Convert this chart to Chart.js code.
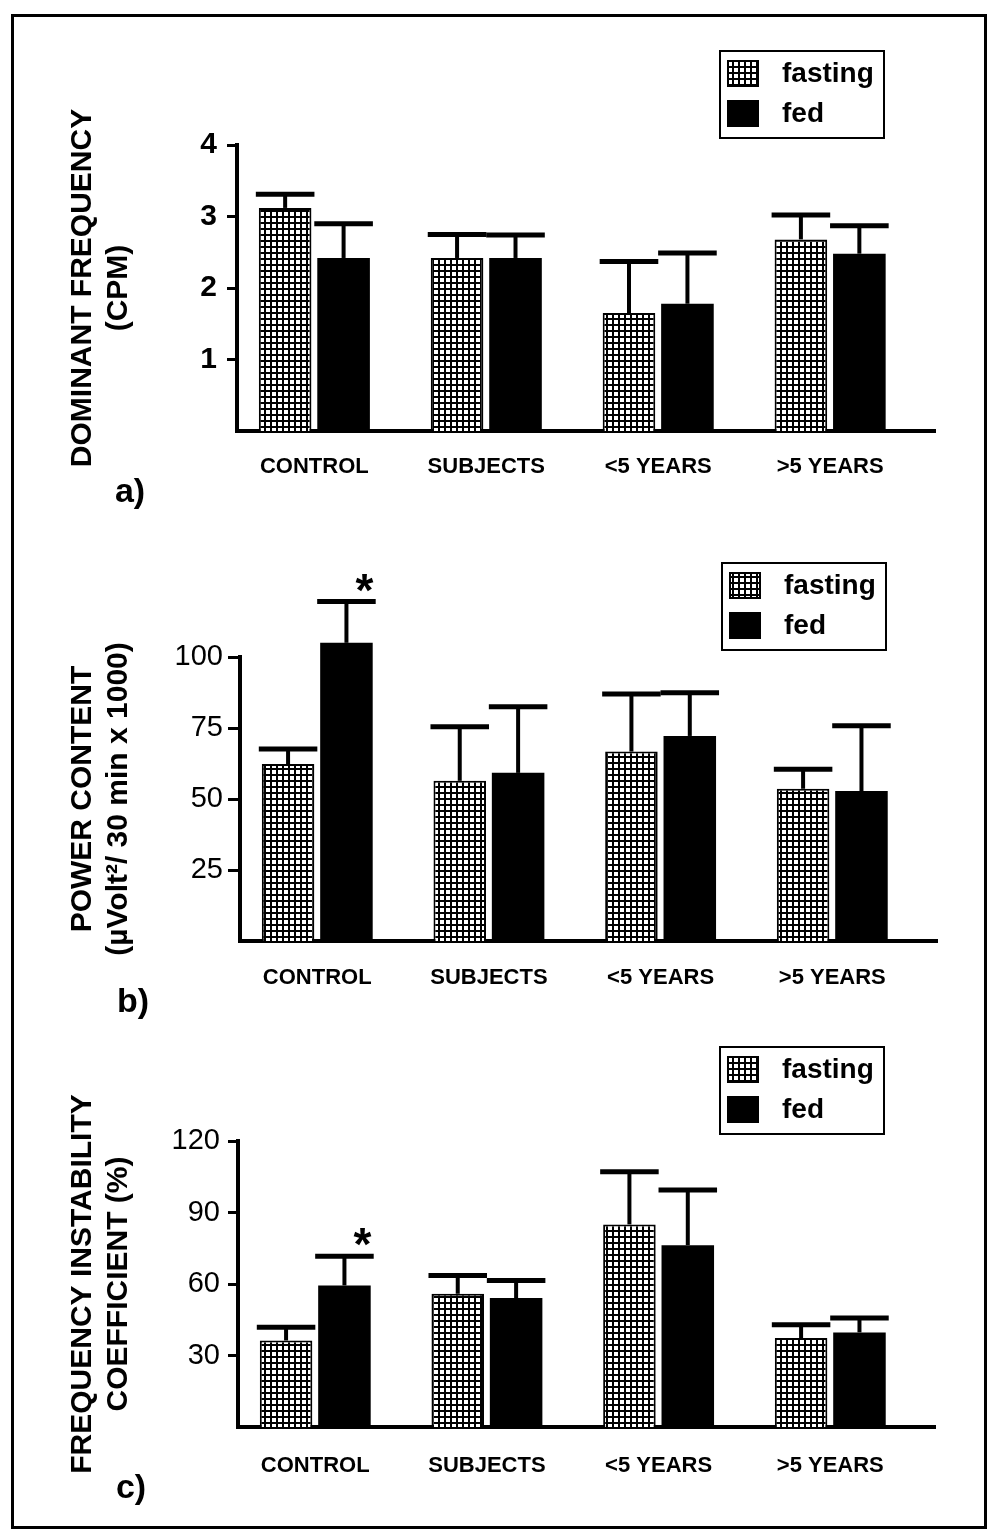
<!DOCTYPE html>
<html>
<head>
<meta charset="utf-8">
<script src="https://cdn.jsdelivr.net/npm/chart.js@4.4.1/dist/chart.umd.min.js"></script>
<style>
html,body{margin:0;padding:0;background:#fff;}
body{width:997px;height:1535px;position:relative;overflow:hidden;}
#frame{position:absolute;left:11px;top:14px;width:976px;height:1515px;border:3px solid #000;box-sizing:border-box;}
canvas{position:absolute;left:0;}
</style>
</head>
<body>
<div id="frame"></div>
<canvas id="pa" width="997" height="510" style="top:0px;width:997px;height:510px"></canvas>
<canvas id="pb" width="997" height="510" style="top:510px;width:997px;height:510px"></canvas>
<canvas id="pc" width="997" height="515" style="top:1020px;width:997px;height:515px"></canvas>
<script>
// ---------- DATA ----------
const categories = ['CONTROL', 'SUBJECTS', '<5 YEARS', '>5 YEARS'];
const seriesNames = ['fasting', 'fed'];

// a) Dominant frequency (CPM)
const domFreqFasting    = [3.12, 2.42, 1.65, 2.68];
const domFreqFastingErr = [0.19, 0.33, 0.72, 0.34];
const domFreqFed        = [2.42, 2.42, 1.78, 2.48];
const domFreqFedErr     = [0.48, 0.32, 0.71, 0.39];
const domFreqTicks      = [1, 2, 3, 4];

// b) Power content
const powerFasting    = [62.3, 56.4, 66.7, 53.6];
const powerFastingErr = [5.3, 19.0, 20.3, 6.9];
const powerFed        = [105.0, 59.2, 72.2, 52.8];
const powerFedErr     = [14.5, 23.3, 15.2, 23.0];
const powerTicks      = [25, 50, 75, 100];

// c) Frequency instability coefficient (%)
const instabFasting    = [36.3, 55.9, 85.0, 37.3];
const instabFastingErr = [5.6, 7.7, 22.1, 5.6];
const instabFed        = [59.4, 54.1, 76.3, 39.7];
const instabFedErr     = [12.2, 7.4, 23.1, 6.0];
const instabTicks      = [30, 60, 90, 120];

// significance marks: [seriesIndex, categoryIndex]
const powerStars  = [[1, 0]];
const instabStars = [[1, 0]];

// ---------- RENDERING ----------
Chart.defaults.font.family = "'Liberation Sans', Arial, Helvetica, sans-serif";
Chart.defaults.color = '#000';

function makePattern(ctx) {
  const c = document.createElement('canvas');
  c.width = 6; c.height = 6;
  const g = c.getContext('2d');
  g.fillStyle = '#fff'; g.fillRect(0, 0, 6, 6);
  g.fillStyle = '#000'; g.fillRect(0, 0, 6, 2); g.fillRect(0, 0, 2, 6);
  return ctx.createPattern(c, 'repeat');
}

function makePanel(id, cfg) {
  const canvas = document.getElementById(id);
  const ctx = canvas.getContext('2d');
  const pattern = makePattern(ctx);
  const toPts = arr => arr.map((v, i) => ({ x: i, y: v }));

  const errorBars = {
    id: 'errorBars',
    afterDatasetsDraw(chart) {
      const c = chart.ctx, ys = chart.scales.y;
      chart.data.datasets.forEach((ds, di) => {
        const meta = chart.getDatasetMeta(di);
        meta.data.forEach((bar, i) => {
          const top = ys.getPixelForValue(ds.data[i].y + ds.errors[i]);
          c.save();
          c.strokeStyle = '#000';
          c.lineCap = 'butt';
          c.lineWidth = 4;
          c.beginPath(); c.moveTo(bar.x, bar.y); c.lineTo(bar.x, top); c.stroke();
          c.lineWidth = 5;
          c.beginPath(); c.moveTo(bar.x - bar.width / 2 - 3, top); c.lineTo(bar.x + bar.width / 2 + 3, top); c.stroke();
          c.restore();
        });
      });
    }
  };

  const decorations = {
    id: 'decorations',
    afterDraw(chart) {
      const c = chart.ctx, area = chart.chartArea, ys = chart.scales.y;
      c.save();
      // significance stars
      c.fillStyle = '#000';
      c.font = "bold 46px 'Liberation Sans', Arial, sans-serif";
      c.textAlign = 'center';
      c.textBaseline = 'alphabetic';
      (cfg.stars || []).forEach(([s, i]) => {
        const ds = chart.data.datasets[s];
        const bar = chart.getDatasetMeta(s).data[i];
        const top = ys.getPixelForValue(ds.data[i].y + ds.errors[i]);
        c.fillText('*', bar.x + 18, top + 4);
      });
      // panel label
      c.font = "bold 34px 'Liberation Sans', Arial, sans-serif";
      c.textBaseline = 'middle';
      c.fillText(cfg.panelLabel, area.left - 107, area.bottom + 62);
      // legend box
      const W = 164, H = 87;
      const L = area.right - 51 - W, T = area.top - 7 - H;
      c.lineWidth = 2;
      c.strokeStyle = '#000';
      c.strokeRect(L, T, W, H);
      chart.data.datasets.forEach((ds, di) => {
        const sy = T + 10 + di * 40;
        c.fillStyle = ds.backgroundColor;
        c.fillRect(L + 8, sy, 30, 25);
        c.strokeRect(L + 8, sy, 30, 25);
        c.fillStyle = '#000';
        c.font = "bold 28px 'Liberation Sans', Arial, sans-serif";
        c.textAlign = 'left';
        c.textBaseline = 'middle';
        c.fillText(ds.label, L + 62, sy + 13);
      });
      c.restore();
    }
  };

  return new Chart(ctx, {
    type: 'bar',
    data: {
      datasets: [
        {
          label: seriesNames[0],
          data: toPts(cfg.fasting),
          errors: cfg.fastingErr,
          backgroundColor: pattern,
          borderColor: '#000',
          borderWidth: 2,
          borderSkipped: 'start',
          clip: false
        },
        {
          label: seriesNames[1],
          data: toPts(cfg.fed),
          errors: cfg.fedErr,
          backgroundColor: '#000',
          borderWidth: 0,
          clip: false
        }
      ]
    },
    options: {
      responsive: false,
      animation: false,
      devicePixelRatio: 1,
      categoryPercentage: 0.68,
      barPercentage: 0.9,
      layout: { padding: { left: 0, right: cfg.padRight, top: cfg.padTop, bottom: cfg.padBottom } },
      plugins: { legend: { display: false }, tooltip: { enabled: false } },
      scales: {
        x: {
          type: 'linear',
          offset: false,
          bounds: 'data',
          min: -0.45,
          max: 3.61,
          afterBuildTicks: s => { s.ticks = categories.map((c, i) => ({ value: i })); },
          afterFit: s => { s.height = 50; },
          grid: { display: false, drawTicks: false, drawOnChartArea: false },
          border: { display: true, color: '#000', width: 4 },
          ticks: {
            padding: cfg.xLabelPad,
            autoSkip: false,
            maxRotation: 0,
            font: { size: 22, weight: 'bold' },
            callback: v => categories[v]
          }
        },
        y: {
          type: 'linear',
          bounds: 'data',
          min: 0,
          max: cfg.yMax,
          afterBuildTicks: s => { s.ticks = cfg.yTicks.map(v => ({ value: v })); },
          afterFit: s => { s.width = cfg.yWidth; },
          grid: { display: true, drawOnChartArea: false, drawTicks: true, tickLength: cfg.tickLen, tickWidth: 3, tickColor: '#000', color: '#000' },
          border: { display: true, color: '#000', width: 4 },
          ticks: {
            padding: cfg.tickPad,
            font: { size: cfg.tickSize, weight: cfg.tickBold ? 'bold' : 'normal' }
          },
          title: {
            display: true,
            text: cfg.title,
            font: { size: 30, weight: 'bold', lineHeight: 1.2 },
            padding: { top: 65, bottom: 0 }
          }
        }
      }
    },
    plugins: [errorBars, decorations]
  });
}

makePanel('pa', {
  fasting: domFreqFasting, fastingErr: domFreqFastingErr,
  fed: domFreqFed, fedErr: domFreqFedErr,
  yMax: 4, yTicks: domFreqTicks, tickBold: true, tickSize: 30,
  title: ['DOMINANT FREQUENCY', '(CPM)'], panelLabel: 'a)',
  yWidth: 237, padRight: 62, padTop: 145, padBottom: 29,
  tickLen: 10, tickPad: 10, xLabelPad: 23, stars: []
});

makePanel('pb', {
  fasting: powerFasting, fastingErr: powerFastingErr,
  fed: powerFed, fedErr: powerFedErr,
  yMax: 100, yTicks: powerTicks, tickBold: false, tickSize: 29,
  title: ['POWER CONTENT', '(\u00b5Volt\u00b2/ 30 min x 1000)'], panelLabel: 'b)',
  yWidth: 240, padRight: 60, padTop: 147, padBottom: 29,
  tickLen: 12, tickPad: 5, xLabelPad: 24, stars: powerStars
});

makePanel('pc', {
  fasting: instabFasting, fastingErr: instabFastingErr,
  fed: instabFed, fedErr: instabFedErr,
  yMax: 120, yTicks: instabTicks, tickBold: false, tickSize: 29,
  title: ['FREQUENCY INSTABILITY', 'COEFFICIENT (%)'], panelLabel: 'c)',
  yWidth: 238, padRight: 62, padTop: 121, padBottom: 58,
  tickLen: 10, tickPad: 8, xLabelPad: 26, stars: instabStars
});
</script>
</body>
</html>
